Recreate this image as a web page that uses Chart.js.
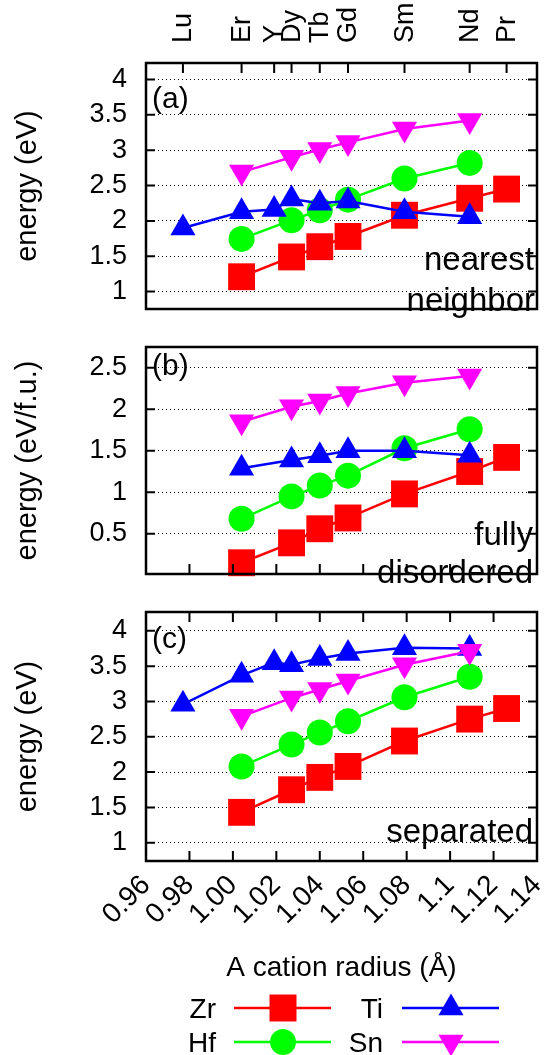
<!DOCTYPE html>
<html>
<head>
<meta charset="utf-8">
<script src="https://cdn.jsdelivr.net/npm/chart.js@4.4.0/dist/chart.umd.min.js"></script>
<style>
  body { margin: 0; background: #fff; }
  #wrap { position: relative; width: 556px; height: 1055px; }
  canvas { position: absolute; left: 0; }
</style>
</head>
<body>
<div id="wrap">
  <canvas id="pa" width="556" height="328" style="top:0px"></canvas>
  <canvas id="pb" width="556" height="265" style="top:328px"></canvas>
  <canvas id="pc" width="556" height="462" style="top:593px"></canvas>
</div>
<script>
const FONT = '"Liberation Sans", Arial, Helvetica, sans-serif';

// A cation (8-fold) radii, top axis
const elements = ['Lu', 'Er', 'Y', 'Dy', 'Tb', 'Gd', 'Sm', 'Nd', 'Pr'];
const radii = [0.977, 1.004, 1.019, 1.027, 1.040, 1.053, 1.079, 1.109, 1.126];

// bottom axis
const xTicks = [0.96, 0.98, 1.00, 1.02, 1.04, 1.06, 1.08, 1.10, 1.12, 1.14];
const xTickLabels = ['0.96', '0.98', '1.00', '1.02', '1.04', '1.06', '1.08', '1.1', '1.12', '1.14'];

const yTicksA = [1, 1.5, 2, 2.5, 3, 3.5, 4];
const yTicksB = [0.5, 1, 1.5, 2, 2.5];
const yTicksC = [1, 1.5, 2, 2.5, 3, 3.5, 4];

// x positions of the series (Er Dy Tb Gd Sm Nd [Pr])
const zrX = [1.004, 1.027, 1.040, 1.053, 1.079, 1.109, 1.126];
const hfX = [1.004, 1.027, 1.040, 1.053, 1.079, 1.109];
const snX = [1.004, 1.027, 1.040, 1.053, 1.079, 1.109];
const tiX = [0.977, 1.004, 1.019, 1.027, 1.040, 1.053, 1.079, 1.109]; // Lu Er Y Dy Tb Gd Sm Nd
const tiXb = [1.004, 1.027, 1.040, 1.053, 1.079, 1.109];

// (a) nearest neighbor
const zrA = [1.21, 1.49, 1.635, 1.78, 2.08, 2.32, 2.45];
const hfA = [1.745, 2.01, 2.15, 2.30, 2.60, 2.82];
const tiA = [1.90, 2.13, 2.16, 2.31, 2.25, 2.28, 2.13, 2.06];
const snA = [2.69, 2.90, 3.01, 3.11, 3.30, 3.42];

// (b) fully disordered
const zrB = [0.15, 0.39, 0.56, 0.69, 0.98, 1.25, 1.42];
const hfB = [0.68, 0.95, 1.08, 1.20, 1.53, 1.76];
const tiB = [1.29, 1.39, 1.44, 1.50, 1.50, 1.445];
const snB = [1.85, 2.03, 2.10, 2.19, 2.32, 2.40];

// (c) separated
const zrC = [1.43, 1.75, 1.925, 2.08, 2.44, 2.75, 2.90];
const hfC = [2.08, 2.39, 2.56, 2.72, 3.06, 3.35];
const tiC = [2.96, 3.37, 3.55, 3.52, 3.61, 3.68, 3.76, 3.75];
const snC = [2.79, 3.05, 3.17, 3.29, 3.52, 3.71];

const RED = '#ff0000', GREEN = '#00ff00', BLUE = '#0000ff', MAGENTA = '#ff00ff';

Chart.defaults.font.family = FONT;
Chart.defaults.color = '#000';

function pts(xs, ys) {
  return xs.map(function (x, i) { return { x: x, y: ys[i] }; });
}

function makeDatasets(zr, hf, ti, sn, tiXs) {
  const list = [
    { label: 'Zr', data: pts(zrX, zr), borderColor: RED, backgroundColor: RED, pointStyle: 'rect', pointRadius: 19, order: 4 },
    { label: 'Hf', data: pts(hfX, hf), borderColor: GREEN, backgroundColor: GREEN, pointStyle: 'circle', pointRadius: 13, order: 3 },
    { label: 'Ti', data: pts(tiXs, ti), borderColor: BLUE, backgroundColor: BLUE, pointStyle: 'triangle', pointRadius: 14.5, order: 2 },
    { label: 'Sn', data: pts(snX, sn), borderColor: MAGENTA, backgroundColor: MAGENTA, pointStyle: 'triangle', pointRotation: 180, pointRadius: 14.5, order: 1 }
  ];
  return list.map(function (d) {
    return Object.assign({ borderWidth: 2.5, pointBorderWidth: 0, pointHoverRadius: d.pointRadius, tension: 0, clip: false }, d);
  });
}

// legend drawn under the x title
function drawLegend(ctx) {
  const items = [
    { t: 'Zr', c: RED, m: 'square', tx: 216, lx: 234, cy: 415 },
    { t: 'Hf', c: GREEN, m: 'circle', tx: 216, lx: 234, cy: 449 },
    { t: 'Ti', c: BLUE, m: 'up', tx: 383, lx: 402, cy: 415 },
    { t: 'Sn', c: MAGENTA, m: 'down', tx: 383, lx: 402, cy: 449 }
  ];
  items.forEach(function (it) {
    ctx.font = '28px ' + FONT;
    ctx.fillStyle = '#000';
    ctx.textAlign = 'right';
    ctx.textBaseline = 'alphabetic';
    ctx.fillText(it.t, it.tx, it.cy + 10);
    ctx.strokeStyle = it.c;
    ctx.lineWidth = 2.5;
    ctx.beginPath();
    ctx.moveTo(it.lx, it.cy);
    ctx.lineTo(it.lx + 97, it.cy);
    ctx.stroke();
    const cx = it.lx + 49, cy = it.cy, r = 14.5;
    ctx.fillStyle = it.c;
    ctx.beginPath();
    if (it.m === 'square') {
      ctx.rect(cx - 13.5, cy - 13.5, 27, 27);
    } else if (it.m === 'circle') {
      ctx.arc(cx, cy, 13, 0, Math.PI * 2);
    } else if (it.m === 'up') {
      ctx.moveTo(cx, cy - r);
      ctx.lineTo(cx + r * 0.866, cy + r / 2);
      ctx.lineTo(cx - r * 0.866, cy + r / 2);
    } else {
      ctx.moveTo(cx, cy + r);
      ctx.lineTo(cx + r * 0.866, cy - r / 2);
      ctx.lineTo(cx - r * 0.866, cy - r / 2);
    }
    ctx.closePath();
    ctx.fill();
  });
}

// frame, inward tics, panel texts
function framePlugin(cfg) {
  return {
    id: 'frame',
    afterDraw: function (chart) {
      const ctx = chart.ctx, ca = chart.chartArea;
      const xs = chart.scales.x, ys = chart.scales.y;
      ctx.save();
      ctx.strokeStyle = '#000';
      ctx.lineWidth = 2;
      ctx.beginPath();
      cfg.yTicks.forEach(function (v) {
        const py = ys.getPixelForValue(v);
        ctx.moveTo(ca.left, py); ctx.lineTo(ca.left + 9, py);
        ctx.moveTo(ca.right, py); ctx.lineTo(ca.right - 9, py);
      });
      (cfg.topTicks || []).forEach(function (v) {
        const px = xs.getPixelForValue(v);
        ctx.moveTo(px, ca.top); ctx.lineTo(px, ca.top + 10);
      });
      (cfg.bottomTicks || []).forEach(function (v) {
        const px = xs.getPixelForValue(v);
        ctx.moveTo(px, ca.bottom); ctx.lineTo(px, ca.bottom - 10);
      });
      ctx.stroke();
      ctx.lineWidth = 2.5;
      ctx.strokeRect(ca.left, ca.top, ca.right - ca.left, ca.bottom - ca.top);

      ctx.fillStyle = '#000';
      ctx.textBaseline = 'alphabetic';
      cfg.notes.forEach(function (n) {
        ctx.font = n.size + 'px ' + FONT;
        ctx.textAlign = n.align;
        ctx.fillText(n.text, n.x, n.y);
      });
      if (cfg.legend) drawLegend(ctx);
      ctx.restore();
    }
  };
}

function yScale(min, max, ticks, title) {
  return {
    type: 'linear', position: 'left', min: min, max: max,
    afterBuildTicks: function (s) { s.ticks = ticks.map(function (v) { return { value: v }; }); },
    afterFit: function (s) { s.width = 146; s.paddingTop = 0; s.paddingBottom = 0; },
    ticks: { font: { size: 27 }, padding: 19, color: '#000', autoSkip: false,
      callback: function (v) { return String(v); } },
    grid: { color: '#000', lineWidth: 1, drawTicks: false },
    border: { display: false, dash: [1, 3] },
    title: { display: true, text: title, font: { size: 29 }, color: '#000', padding: { top: 11, bottom: 0 } }
  };
}

function makePanel(id, opt) {
  const showBottom = !!opt.bottomAxis;
  const scales = {
    x: {
      type: 'linear', position: 'bottom', min: 0.96, max: 1.14, display: showBottom,
      afterBuildTicks: function (s) { s.ticks = xTicks.map(function (v) { return { value: v }; }); },
      afterFit: function (s) {
        s.height = showBottom ? 194 : 0;
        s.paddingLeft = 0; s.paddingRight = 0;
      },
      ticks: { font: { size: 28 }, color: '#000', minRotation: 45, maxRotation: 45, autoSkip: false, padding: 8,
        callback: function (v, i) { return xTickLabels[i]; } },
      grid: { display: false, drawTicks: false },
      border: { display: false },
      title: { display: showBottom, text: 'A cation radius (Å)', font: { size: 28 }, color: '#000',
        padding: { top: 0, bottom: 70 } }
    },
    y: yScale(opt.yMin, opt.yMax, opt.yTicks, opt.yTitle)
  };
  if (opt.topAxis) {
    scales.xt = {
      type: 'linear', position: 'top', min: 0.96, max: 1.14,
      afterBuildTicks: function (s) { s.ticks = radii.map(function (v) { return { value: v }; }); },
      afterFit: function (s) { s.height = 63; s.paddingLeft = 0; s.paddingRight = 0; },
      ticks: { font: { size: 27 }, color: '#000', minRotation: 90, maxRotation: 90, autoSkip: false, padding: 20,
        labelOffset: 33,
        callback: function (v, i) { return elements[i]; } },
      grid: { display: false, drawTicks: false },
      border: { display: false }
    };
  }
  return new Chart(document.getElementById(id), {
    type: 'line',
    data: { datasets: opt.datasets },
    options: {
      responsive: false,
      animation: false,
      devicePixelRatio: 1,
      events: [],
      layout: { padding: { left: 0, right: 7, top: 0, bottom: 0 } },
      scales: scales,
      plugins: { legend: { display: false }, tooltip: { enabled: false } }
    },
    plugins: [framePlugin(opt.frame)]
  });
}

makePanel('pa', {
  topAxis: true, bottomAxis: false,
  yMin: 0.754, yMax: 4.233, yTicks: yTicksA, yTitle: 'energy (eV)',
  datasets: makeDatasets(zrA, hfA, tiA, snA, tiX),
  frame: {
    yTicks: yTicksA, topTicks: radii, bottomTicks: [],
    notes: [
      { text: '(a)', x: 152, y: 108, size: 30, align: 'left' },
      { text: 'nearest', x: 534, y: 270, size: 33, align: 'right' },
      { text: 'neighbor', x: 535, y: 311, size: 33, align: 'right' }
    ]
  }
});

makePanel('pb', {
  topAxis: false, bottomAxis: false,
  yMin: 0.0145, yMax: 2.751, yTicks: yTicksB, yTitle: 'energy (eV/f.u.)',
  datasets: makeDatasets(zrB, hfB, tiB, snB, tiXb),
  frame: {
    yTicks: yTicksB, topTicks: [], bottomTicks: xTicks,
    notes: [
      { text: '(b)', x: 152, y: 47, size: 30, align: 'left' },
      { text: 'fully', x: 533, y: 217, size: 33, align: 'right' },
      { text: 'disordered', x: 533, y: 255, size: 33, align: 'right' }
    ]
  }
});

makePanel('pc', {
  topAxis: false, bottomAxis: true,
  yMin: 0.741, yMax: 4.267, yTicks: yTicksC, yTitle: 'energy (eV)',
  datasets: makeDatasets(zrC, hfC, tiC, snC, tiX),
  frame: {
    yTicks: yTicksC, topTicks: xTicks, bottomTicks: xTicks, legend: true,
    notes: [
      { text: '(c)', x: 152, y: 55, size: 30, align: 'left' },
      { text: 'separated', x: 533, y: 249, size: 33, align: 'right' }
    ]
  }
});
</script>
</body>
</html>
